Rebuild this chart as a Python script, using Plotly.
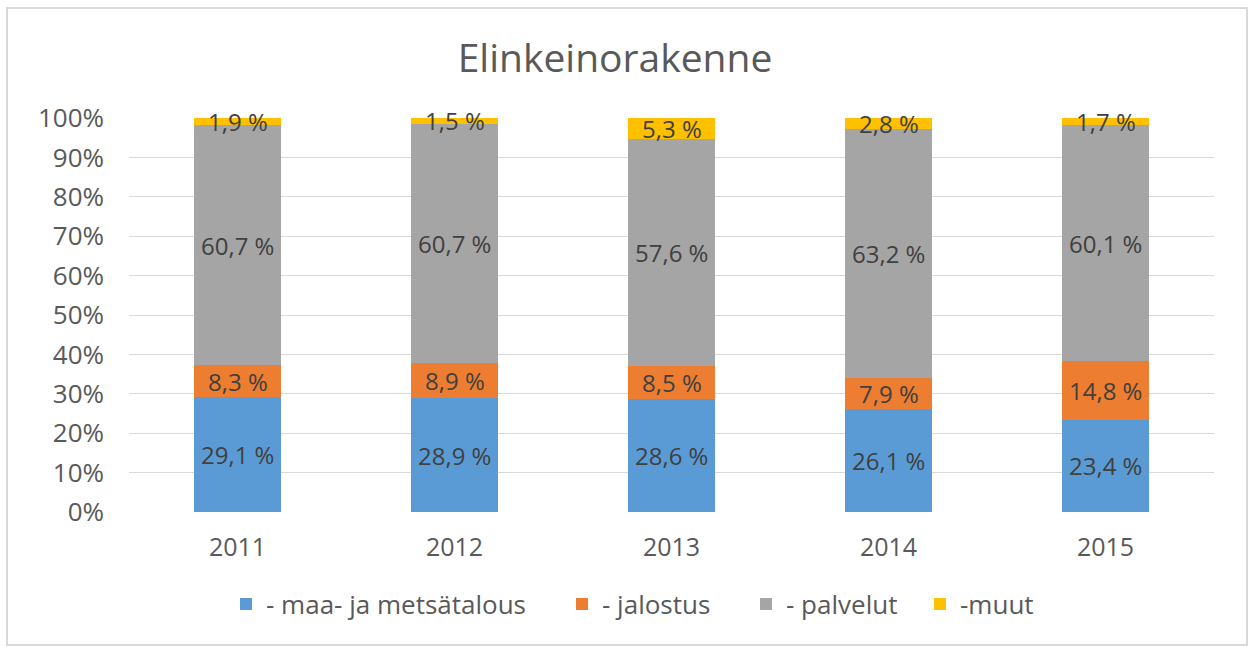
import plotly.graph_objects as go

years = ["2011", "2012", "2013", "2014", "2015"]
series_names = ["- maa- ja metsätalous", "- jalostus", "- palvelut", "-muut"]
maa_metsa = [29.1, 28.9, 28.6, 26.1, 23.4]
jalostus = [8.3, 8.9, 8.5, 7.9, 14.8]
palvelut = [60.7, 60.7, 57.6, 63.2, 60.1]
muut = [1.9, 1.5, 5.3, 2.8, 1.7]
colors = ["#5B9BD5", "#ED7D31", "#A5A5A5", "#FFC000"]
ytick_vals = [0, 10, 20, 30, 40, 50, 60, 70, 80, 90, 100]
ytick_text = [f"{v}%" for v in ytick_vals]

FONT = "Open Sans"
series = [maa_metsa, jalostus, palvelut, muut]
legend_ids = ["legend", "legend2", "legend3", "legend4"]

# plot area pixel geometry: left 129, right 1214, top 118, bottom 512
L, R, T, B = 129, 1214, 118, 512
W, H = R - L, B - T
def px(x):
    return (x - L) / W
def py(y):
    return (B - y) / H

fig = go.Figure()
for name, vals, col, lg in zip(series_names, series, colors, legend_ids):
    fig.add_trace(go.Bar(
        x=years, y=vals, name=name, marker=dict(color=col, line=dict(width=0)),
        hoverinfo="skip", legend=lg, showlegend=True,
    ))

# data labels centred in each stacked segment (x given as category index)
annotations = []
base = [0.0] * len(years)
for vals in series:
    for j, v in enumerate(vals):
        annotations.append(dict(
            x=j, y=base[j] + v / 2, xref="x", yref="y",
            text=f"{v:.1f} %".replace(".", ","), showarrow=False,
            font=dict(size=24, color="#404040", family=FONT),
            xanchor="center", yanchor="middle",
        ))
        base[j] += v

legend_square_left = [241, 577, 761, 935]
SYM_OFF = 15
legends = {}
for lg, sx in zip(legend_ids, legend_square_left):
    legends[lg] = dict(orientation="h", x=px(sx - SYM_OFF), xanchor="left",
                       y=py(604), yanchor="middle",
                       font=dict(size=26, color="#595959", family=FONT),
                       itemwidth=30, bgcolor="rgba(0,0,0,0)")

fig.update_layout(
    barmode="stack",
    bargap=0.6,
    showlegend=True,
    width=1249, height=647,
    margin=dict(l=L, r=1249 - R, t=T, b=647 - B),
    paper_bgcolor="white", plot_bgcolor="white",
    font=dict(family=FONT, color="#595959"),
    title=dict(text="Elinkeinorakenne", x=615 / 1249, xanchor="center",
               y=1 - 58 / 647, yanchor="middle",
               font=dict(size=39, color="#595959", family=FONT)),
    yaxis=dict(range=[0, 100], tickvals=ytick_vals, ticktext=ytick_text,
               showgrid=True, gridcolor="#D9D9D9", gridwidth=1, zeroline=False,
               showline=False, ticks="", tickfont=dict(size=26, color="#595959"),
               ticklabelstandoff=24),
    xaxis=dict(type="category", range=[-0.5, 4.5], showgrid=False, showline=False,
               ticks="", zeroline=False,
               tickfont=dict(size=25, color="#595959"), ticklabelstandoff=18),
    annotations=annotations,
    shapes=[dict(type="rect", xref="paper", yref="paper",
                 x0=px(7), x1=px(1247), y0=py(645), y1=py(8),
                 line=dict(color="#D9D9D9", width=2), layer="below")],
    **legends,
)

fig.write_html("out.html", config={"displayModeBar": False},
               post_script="document.body.style.margin='0px';")
